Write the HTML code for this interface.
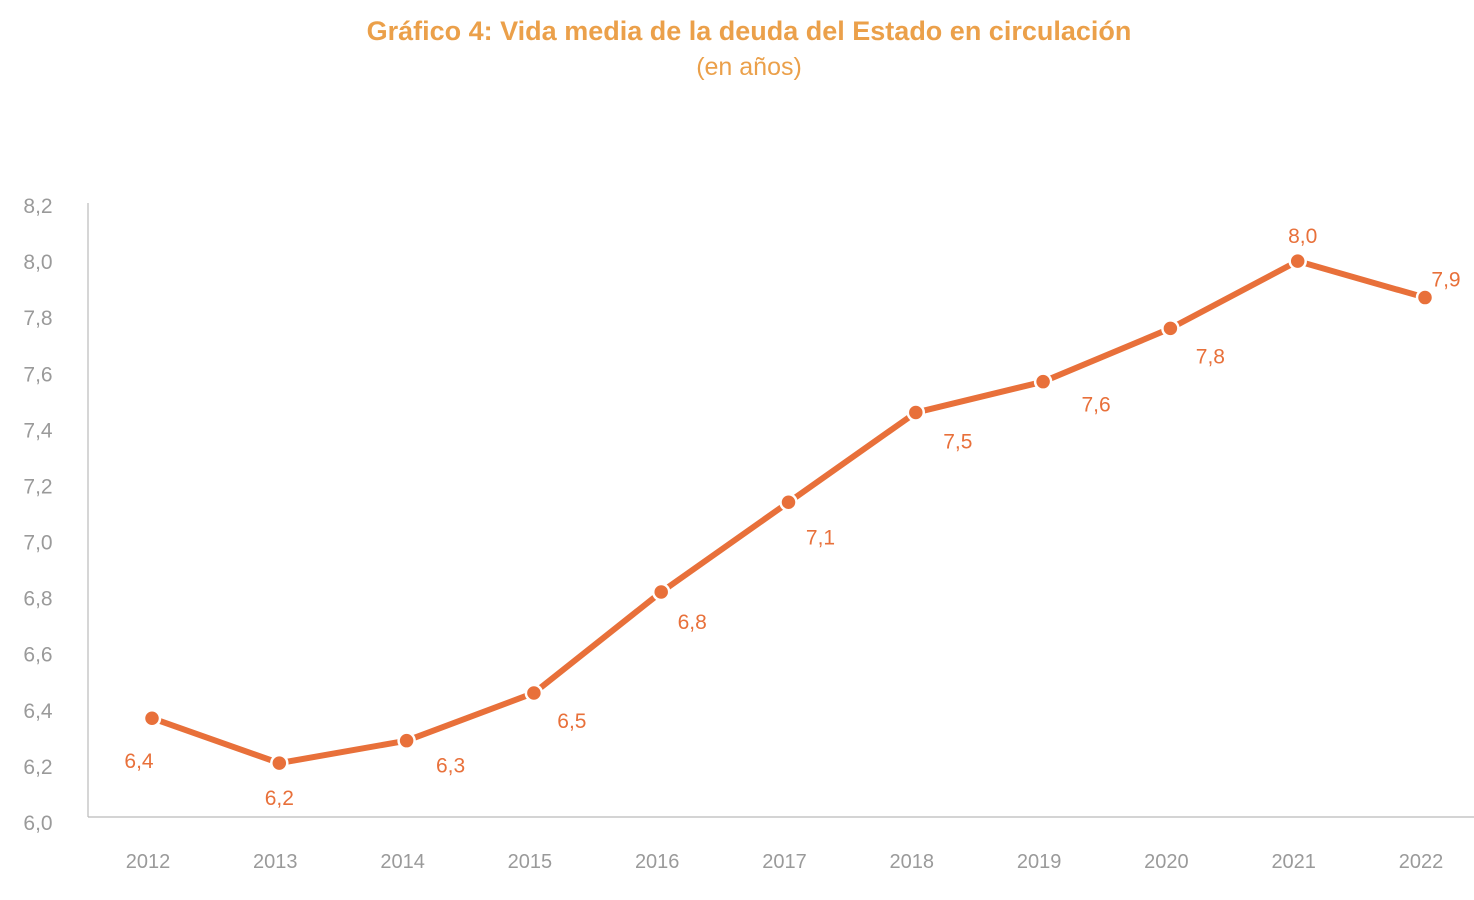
<!DOCTYPE html>
<html><head><meta charset="utf-8"><style>
html,body{margin:0;padding:0;background:#fff;}
body{width:1474px;height:895px;overflow:hidden;font-family:"Liberation Sans",sans-serif;}
</style></head><body>
<svg id="chart" width="1474" height="895" xmlns="http://www.w3.org/2000/svg">
<text x="749" y="40" text-anchor="middle" font-size="27" font-weight="bold" fill="#eba04a" font-family="Liberation Sans, sans-serif">Gráfico 4: Vida media de la deuda del Estado en circulación</text>
<text x="749" y="75" text-anchor="middle" font-size="25" fill="#eba04a" font-family="Liberation Sans, sans-serif">(en años)</text>
<g id="axes"></g><g id="series"></g>
</svg>
<script>
const categories=["2012","2013","2014","2015","2016","2017","2018","2019","2020","2021","2022"];
const values=[6.37,6.21,6.29,6.46,6.82,7.14,7.46,7.57,7.76,8.00,7.87];
const valueLabels=["6,4","6,2","6,3","6,5","6,8","7,1","7,5","7,6","7,8","8,0","7,9"];
const yTicks=[6.0,6.2,6.4,6.6,6.8,7.0,7.2,7.4,7.6,7.8,8.0,8.2];
const yTickLabels=["6,0","6,2","6,4","6,6","6,8","7,0","7,2","7,4","7,6","7,8","8,0","8,2"];
const labelDx=[-13,0,44,38,31,32,42,53,40,5,21];
const labelDy=[42,34,24,27,29,34,28,22,27,-26,-19];
const NS="http://www.w3.org/2000/svg";
const x=i=>152+i*127.3;
const y=v=>822-(v-6.0)/2.2*617;
function mk(t,a,p){const e=document.createElementNS(NS,t);for(const k in a)e.setAttribute(k,a[k]);p.appendChild(e);return e;}
const ax=document.getElementById('axes'),se=document.getElementById('series');
let l=mk('line',{x1:88,y1:203,x2:88,y2:817,stroke:'#bbb','stroke-width':1.2},ax);


l=mk('line',{x1:88,y1:817,x2:1474,y2:817,stroke:'#bbb','stroke-width':1.2},ax);


yTicks.forEach((v,i)=>{const t=mk('text',{x:38,y:y(v)+8,'text-anchor':'middle','font-size':21,fill:'#9a9a9a'},ax);t.textContent=yTickLabels[i];

});
categories.forEach((c,i)=>{const t=mk('text',{x:x(i)-4,y:868,'text-anchor':'middle','font-size':20,fill:'#9a9a9a'},ax);t.textContent=c;

});
const pl=mk('polyline',{points:values.map((v,i)=>x(i)+','+y(v)).join(' '),fill:'none',stroke:'#e8703a','stroke-width':6,'stroke-linejoin':'round'},se);


values.forEach((v,i)=>{const c=mk('circle',{cx:x(i),cy:y(v),r:8,fill:'#e8703a',stroke:'#fff','stroke-width':2.5},se);


const t=mk('text',{x:x(i)+labelDx[i],y:y(v)+labelDy[i]+8,'text-anchor':'middle','font-size':21,fill:'#e8703a'},se);t.textContent=valueLabels[i];

});
</script>
</body></html>
